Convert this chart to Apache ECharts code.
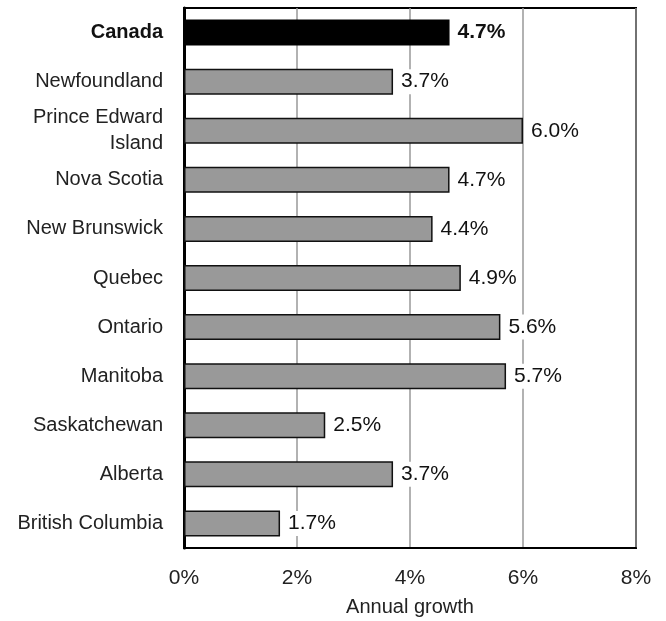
<!DOCTYPE html>
<html><head><meta charset="utf-8">
<script src="https://cdn.jsdelivr.net/npm/echarts@6/dist/echarts.min.js"></script>
<style>html,body{margin:0;padding:0;background:#fff}#c{width:666px;height:621px}</style>
</head><body><div id="c"></div>
<script>
const categories = ["Canada","Newfoundland","Prince Edward\nIsland","Nova Scotia","New Brunswick","Quebec","Ontario","Manitoba","Saskatchewan","Alberta","British Columbia"];
const values = [4.7,3.7,6.0,4.7,4.4,4.9,5.6,5.7,2.5,3.7,1.7];
const xTicks = [0,2,4,6,8];
const axisName = "Annual growth";

const font = "'Liberation Sans', Arial, Helvetica, sans-serif";
const fs = 21;
const chart = echarts.init(document.getElementById('c'));
chart.setOption({
  animation:false,
  grid:{left:184,right:30,top:8,bottom:73,show:true,borderColor:'#000',borderWidth:2,backgroundColor:'transparent',outerBoundsMode:'none',containLabel:false},
  xAxis:{type:'value',min:xTicks[0],max:xTicks[xTicks.length-1],interval:2,
    axisLine:{show:true,lineStyle:{color:'#000',width:2}},axisTick:{show:false},
    splitLine:{show:true,lineStyle:{color:'#999',width:1.5}},
    axisLabel:{formatter:v=>v+'%',fontFamily:font,fontSize:fs,color:'#222',margin:20},
    name:axisName,nameLocation:'middle',nameGap:49,nameTextStyle:{fontFamily:font,fontSize:fs-1,color:'#222'}},
  yAxis:{type:'category',data:categories,inverse:true,
    axisLine:{show:true,lineStyle:{color:'#000',width:3}},axisTick:{show:false},
    axisLabel:{fontFamily:font,fontSize:fs-1,color:'#222',margin:21,lineHeight:26,
      formatter:(v,i)=> i===0?'{b|'+v+'}':v,
      rich:{b:{fontFamily:font,fontSize:fs-1,fontWeight:'bold',color:'#111'}}}},
  series:[{type:'bar',barWidth:'53%',
    data:values.map((v,i)=>({value:v,itemStyle:i===0?{color:'#000',borderColor:'#000',borderWidth:1.5}:{color:'#999',borderColor:'#111',borderWidth:1.5},
      label:i===0?{fontWeight:'bold'}:{}})),
    label:{show:true,position:'right',distance:4,formatter:p=>p.value.toFixed(1)+'%',
      fontFamily:font,fontSize:fs,color:'#111',backgroundColor:'#fff',padding:[2,4]}}]
});
</script></body></html>
